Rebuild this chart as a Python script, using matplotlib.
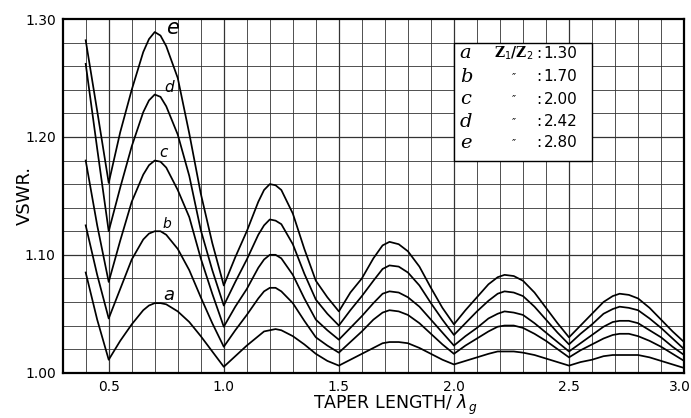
import matplotlib
matplotlib.use("Agg")
import matplotlib.pyplot as plt
import matplotlib.transforms as mtransforms
from matplotlib.patches import Rectangle

# taper length / lambda_g
x = [0.40, 0.45, 0.50, 0.55, 0.60, 0.65, 0.675, 0.70, 0.725, 0.75, 0.80, 0.85, 0.90, 0.95,
     1.00, 1.05, 1.10, 1.15, 1.175, 1.20, 1.225, 1.25, 1.30, 1.35, 1.40, 1.45,
     1.50, 1.55, 1.60, 1.65, 1.69, 1.72, 1.76, 1.80, 1.85, 1.90, 1.95,
     2.00, 2.05, 2.10, 2.15, 2.19, 2.22, 2.26, 2.30, 2.35, 2.40, 2.45,
     2.50, 2.55, 2.60, 2.65, 2.69, 2.72, 2.76, 2.80, 2.85, 2.90, 2.95, 3.00]

vswr_e = [1.282, 1.222, 1.161, 1.204, 1.240, 1.272, 1.283, 1.289, 1.286, 1.277, 1.250, 1.203, 1.152, 1.110,
          1.074, 1.098, 1.120, 1.145, 1.155, 1.160, 1.159, 1.155, 1.135, 1.105, 1.078, 1.064,
          1.052, 1.068, 1.080, 1.097, 1.108, 1.111, 1.109, 1.103, 1.090, 1.072, 1.055,
          1.041, 1.053, 1.064, 1.075, 1.081, 1.083, 1.082, 1.078, 1.068, 1.055, 1.042,
          1.030, 1.040, 1.050, 1.060, 1.065, 1.067, 1.066, 1.063, 1.055, 1.045, 1.035, 1.026]
vswr_d = [1.262, 1.190, 1.120, 1.157, 1.192, 1.221, 1.231, 1.236, 1.234, 1.226, 1.202, 1.167, 1.121, 1.087,
          1.057, 1.077, 1.096, 1.117, 1.125, 1.130, 1.129, 1.126, 1.109, 1.084, 1.062, 1.050,
          1.040, 1.053, 1.065, 1.078, 1.088, 1.091, 1.090, 1.085, 1.074, 1.059, 1.045,
          1.032, 1.042, 1.052, 1.061, 1.067, 1.069, 1.068, 1.065, 1.056, 1.045, 1.034,
          1.024, 1.033, 1.041, 1.050, 1.054, 1.056, 1.055, 1.053, 1.046, 1.038, 1.029, 1.020]
vswr_c = [1.180, 1.125, 1.077, 1.112, 1.145, 1.168, 1.176, 1.180, 1.179, 1.174, 1.155, 1.132, 1.097, 1.067,
          1.039, 1.056, 1.071, 1.089, 1.096, 1.100, 1.100, 1.097, 1.083, 1.063, 1.045, 1.036,
          1.028, 1.038, 1.048, 1.059, 1.067, 1.069, 1.068, 1.064, 1.056, 1.045, 1.034,
          1.023, 1.031, 1.038, 1.046, 1.050, 1.052, 1.051, 1.049, 1.042, 1.034, 1.026,
          1.018, 1.025, 1.032, 1.039, 1.043, 1.044, 1.044, 1.042, 1.036, 1.030, 1.022, 1.015]
vswr_b = [1.125, 1.083, 1.046, 1.071, 1.096, 1.113, 1.118, 1.120, 1.120, 1.117, 1.105, 1.087, 1.064, 1.042,
          1.022, 1.036, 1.049, 1.063, 1.069, 1.072, 1.072, 1.069, 1.059, 1.044, 1.030, 1.023,
          1.017, 1.026, 1.035, 1.045, 1.051, 1.053, 1.052, 1.049, 1.042, 1.033, 1.024,
          1.016, 1.023, 1.029, 1.035, 1.039, 1.040, 1.040, 1.038, 1.033, 1.027, 1.020,
          1.013, 1.019, 1.024, 1.029, 1.032, 1.033, 1.033, 1.031, 1.027, 1.022, 1.016, 1.010]
vswr_a = [1.085, 1.045, 1.011, 1.027, 1.041, 1.053, 1.057, 1.059, 1.059, 1.058, 1.052, 1.043, 1.031, 1.018,
          1.005, 1.014, 1.023, 1.031, 1.035, 1.036, 1.037, 1.036, 1.031, 1.024, 1.016, 1.010,
          1.006, 1.011, 1.016, 1.021, 1.025, 1.026, 1.026, 1.025, 1.021, 1.016, 1.011,
          1.007, 1.010, 1.013, 1.016, 1.018, 1.018, 1.018, 1.017, 1.015, 1.012, 1.009,
          1.006, 1.009, 1.011, 1.014, 1.015, 1.015, 1.015, 1.015, 1.013, 1.010, 1.007, 1.004]

curve_letters = ['a', 'b', 'c', 'd', 'e']
ratios = ['1.30', '1.70', '2.00', '2.42', '2.80']
curves = [vswr_a, vswr_b, vswr_c, vswr_d, vswr_e]
# where the letter sits next to each curve's first peak
label_pos = [(0.735, 1.066), (0.735, 1.126), (0.72, 1.187), (0.74, 1.242), (0.748, 1.292)]
label_size = [13, 10, 11, 11, 15]

fig = plt.figure(figsize=(6.91, 4.18), dpi=100)
ax = fig.add_axes([0.0907, 0.1084, 0.8993, 0.846])

# graph paper: 0.1 across, 0.02 up
for i in range(4, 30):
    lw = 0.9 if i % 5 == 0 else 0.6
    ax.axvline(i / 10, color='#333333', lw=lw, zorder=1)
for j in range(1, 15):
    lw = 0.9 if j % 5 == 0 else 0.6
    ax.axhline(1.0 + j / 50, color='#333333', lw=lw, zorder=1)

for ys in curves:
    ax.plot(x, ys, color='black', lw=1.25, zorder=3)

for let, (lx, ly), fs in zip(curve_letters, label_pos, label_size):
    ax.text(lx, ly, let, fontsize=fs, fontstyle='italic', ha='left', va='center', zorder=4)

# key box
ax.add_patch(Rectangle((2.0, 1.18), 0.6, 0.10, facecolor='white', edgecolor='black',
                       lw=1.0, zorder=2))
row_y = [1.271, 1.251, 1.232, 1.213, 1.195]
for i, (let, r) in enumerate(zip(curve_letters, ratios)):
    y = row_y[i]
    ax.text(2.025, y, let, fontsize=14, fontstyle='italic', fontfamily='DejaVu Serif',
            ha='left', va='center', zorder=4)
    if i == 0:
        ax.text(2.26, y, r'Z$_1$/Z$_2$', fontsize=10, fontfamily='DejaVu Serif',
                fontweight='bold', ha='center', va='center', zorder=4)
    else:
        ax.text(2.26, y, '\u2033', fontsize=8, ha='center', va='center', zorder=4)
    ax.text(2.37, y, ':', fontsize=11, ha='center', va='center', zorder=4)
    ax.text(2.39, y, r, fontsize=11, ha='left', va='center', zorder=4)

ax.set_xlim(0.3, 3.0)
ax.set_ylim(1.0, 1.3)
ax.set_xticks([0.5, 1.0, 1.5, 2.0, 2.5, 3.0])
ax.set_xticklabels(['0.5', '1.0', '1.5', '2.0', '2.5', '3.0'])
ax.set_yticks([1.0, 1.1, 1.2, 1.3])
ax.set_yticklabels(['1.00', '1.10', '1.20', '1.30'])
ax.tick_params(length=0, labelsize=10, pad=5)
# nudge the last x label so it stays on the page
last = ax.get_xticklabels()[-1]
last.set_transform(last.get_transform() + mtransforms.ScaledTranslation(-4 / 100, 0, fig.dpi_scale_trans))
for s in ax.spines.values():
    s.set_linewidth(1.6)

ax.set_xlabel(r'TAPER LENGTH/ $\lambda_{\,g}$', fontsize=12.5)
ax.xaxis.set_label_coords(0.535, -0.058)
ax.set_ylabel('VSWR.', fontsize=13)
ax.yaxis.set_label_coords(-0.046, 0.5)

fig.savefig('out.png', dpi=100)
